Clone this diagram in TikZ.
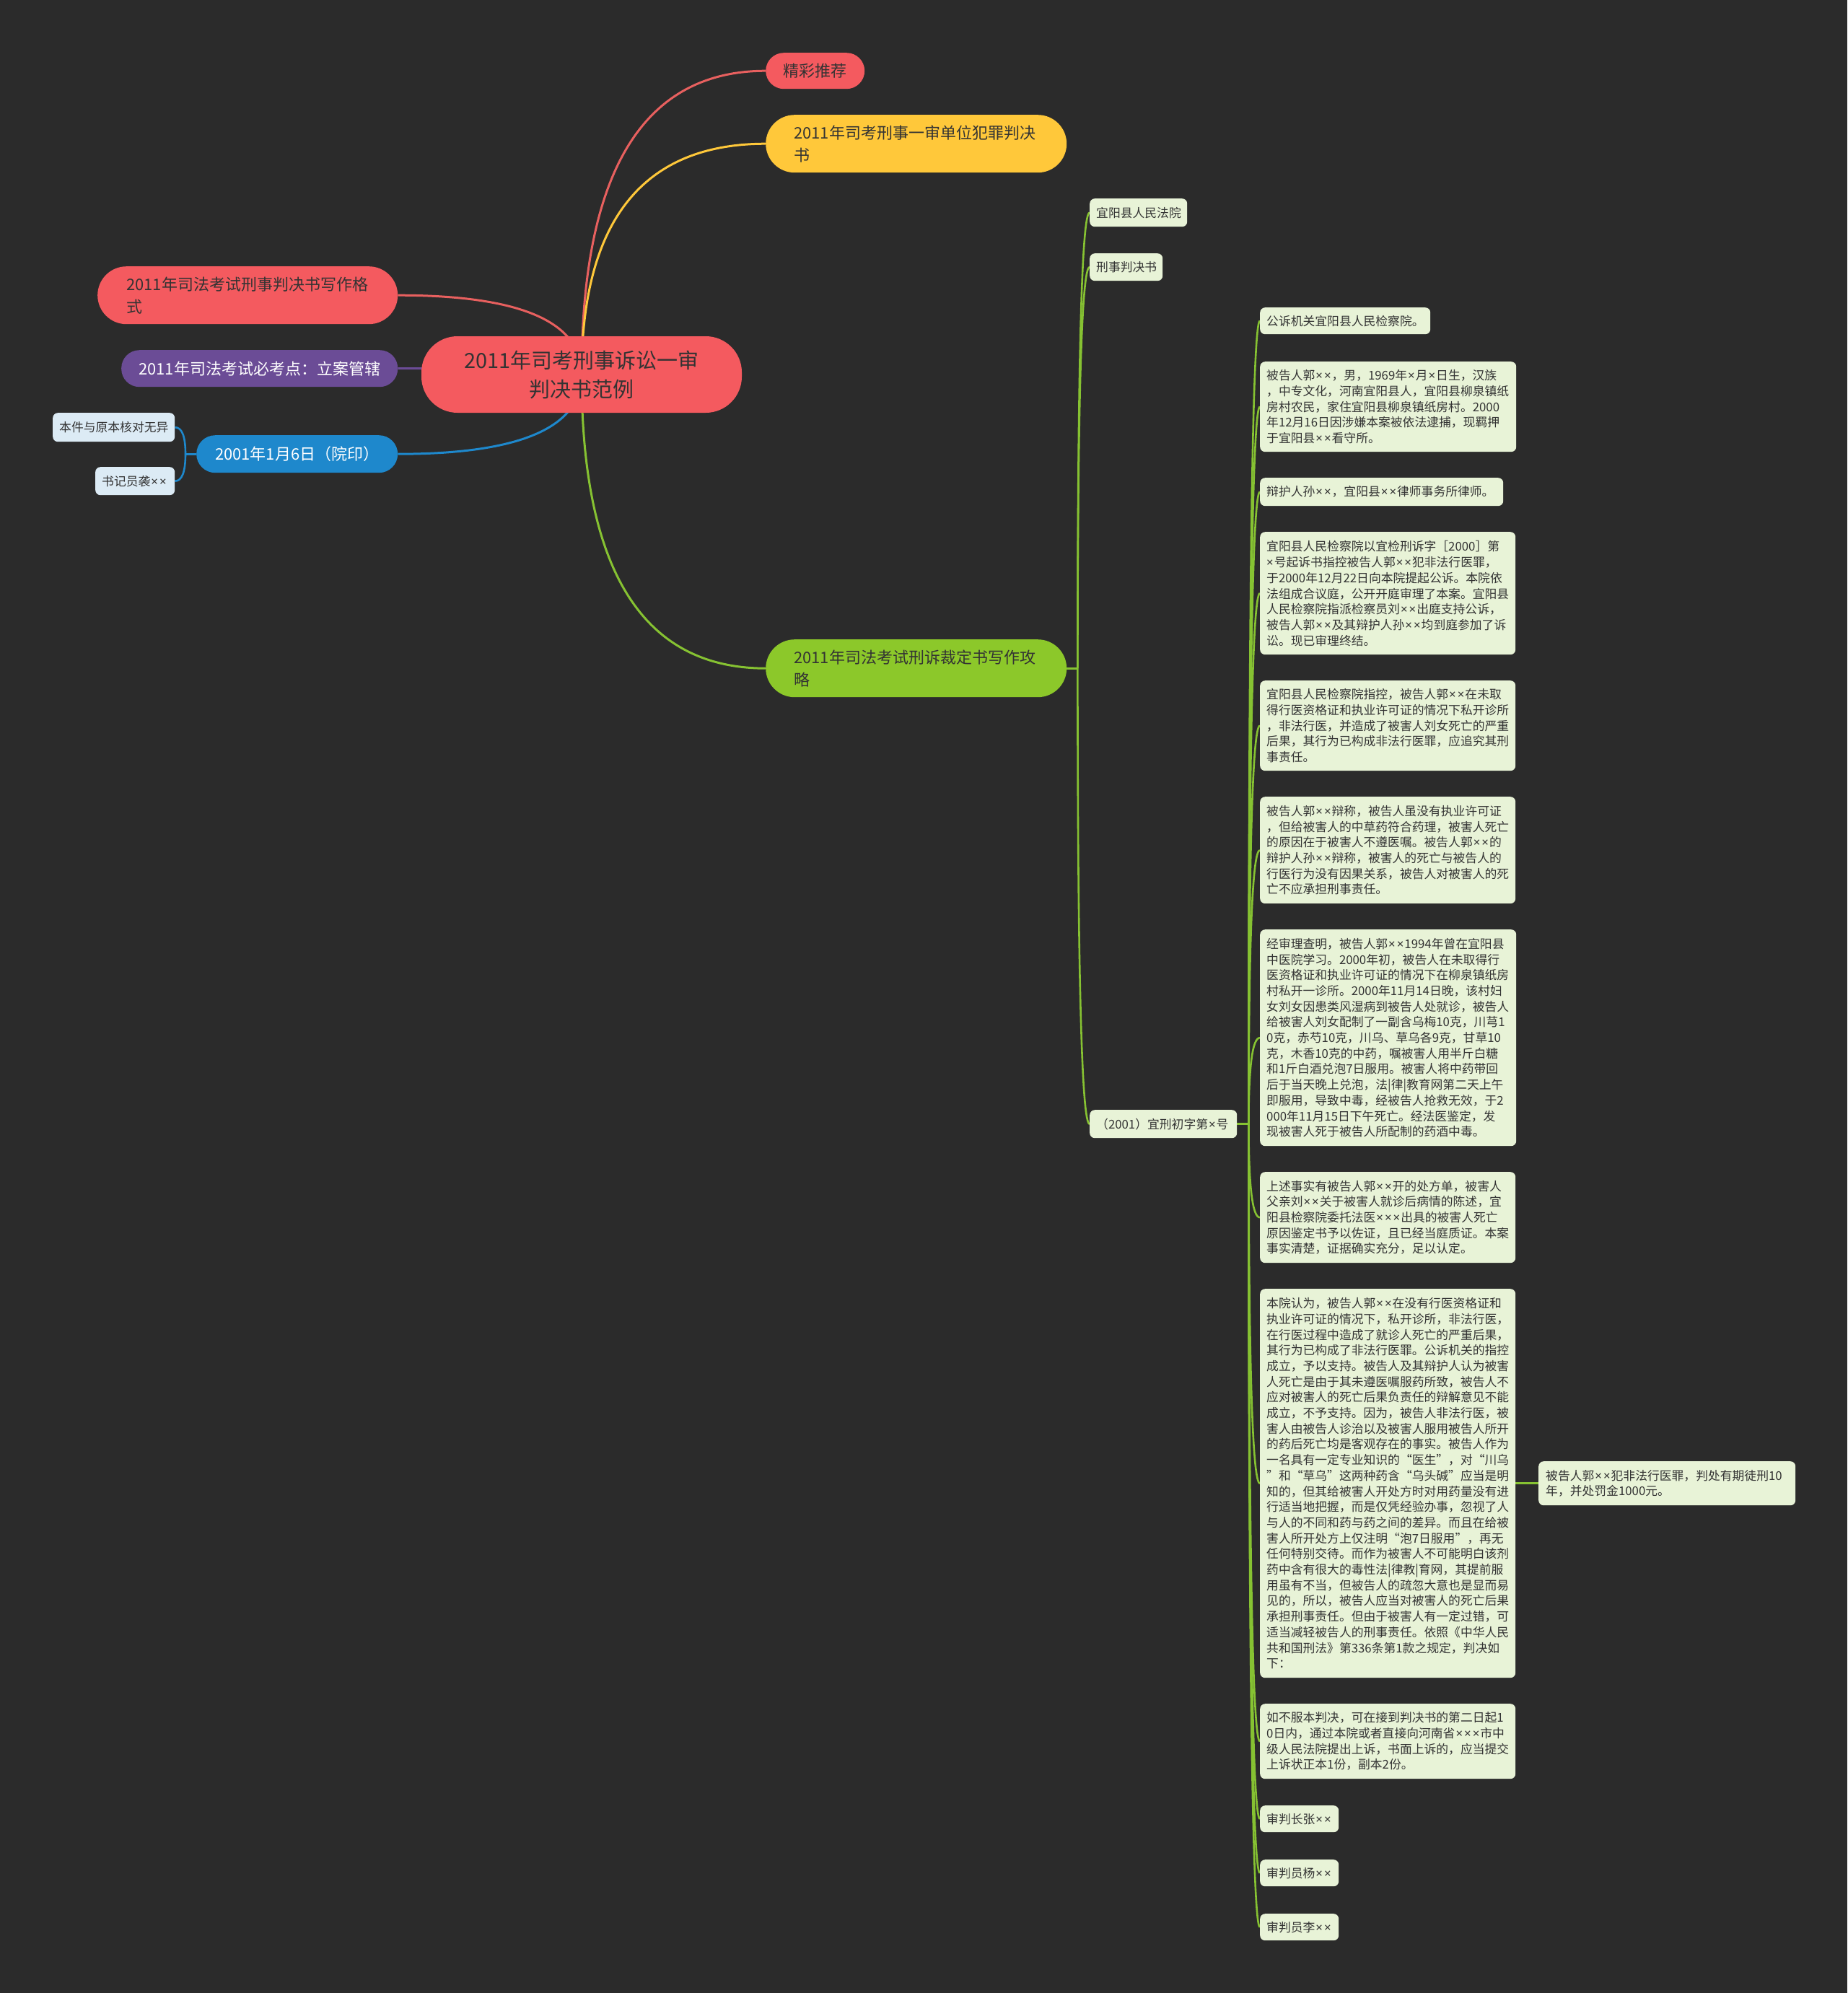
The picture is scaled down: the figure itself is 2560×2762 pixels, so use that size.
\documentclass[tikz,border=0pt]{standalone}
\usepackage{fontspec}
\setmainfont{Noto Sans CJK SC}
\newfontfamily\xlat{Noto Sans}
\usetikzlibrary{calc}
\hyphenpenalty=10000
\catcode`\×=\active
\def×{{\kern0.06em\xlat\char"00D7\kern0.06em}}
\definecolor{bgc}{HTML}{2B2B2B}
\definecolor{redc}{HTML}{F45A5F}
\definecolor{redl}{HTML}{E8605F}
\definecolor{yelc}{HTML}{FFC83A}
\definecolor{grnc}{HTML}{8CC82A}
\definecolor{grnl}{HTML}{86C232}
\definecolor{purc}{HTML}{6B4C96}
\definecolor{bluc}{HTML}{1E88CC}
\definecolor{boxc}{HTML}{E8F3D7}
\definecolor{lbluc}{HTML}{DCEBF5}
\definecolor{txtd}{HTML}{333333}
\pgfdeclarelayer{bgfill}
\pgfdeclarelayer{links}
\pgfsetlayers{bgfill,links,main}
\newcommand\qlink[3]{\draw[#1] (#2) .. controls ($(#2)!0.6667!(#2|-#3)$) and ($(#3)!0.6667!(#2|-#3)$) .. (#3);}
\begin{document}
\begin{tikzpicture}[x=1pt,y=-1pt,
  rootnode/.style={fill=redc,text=txtd,minimum width=444pt,minimum height=106pt,rounded corners=50pt,align=center,inner sep=0pt,font=\fontsize{29}{40}\selectfont},
  pill/.style={anchor=north west,inner sep=0pt,text=txtd,font=\fontsize{22}{31}\selectfont},
  tbox/.style={anchor=north west,fill=boxc,text=txtd,rounded corners=7pt,inner xsep=9pt,inner ysep=0pt,align=left,font=\fontsize{16.8}{21.7}\selectfont},
  lbox/.style={tbox,fill=lbluc},
  mainlink/.style={line width=3pt},
  sublink/.style={line width=2.6pt,grnl},
]
\begin{pgfonlayer}{bgfill}
\fill[bgc] (0,0) rectangle (2560,2762);
\end{pgfonlayer}
\useasboundingbox (0,0) rectangle (2560,2762);

% root
\node[rootnode] (root) at (806,519) {2011年司考刑事诉讼一审\\判决书范例};

% right level-1
\node[pill,fill=redc,minimum width=137pt,minimum height=50pt,rounded corners=25pt,align=center] (jc) at (1061,73) {精彩推荐};
\node[pill,fill=yelc,text width=339pt,inner xsep=39pt,align=left,minimum height=80pt,rounded corners=40pt] (y1) at (1061,159) {2011年司考刑事一审单位犯罪判决\\书};
\node[pill,fill=grnc,text width=339pt,inner xsep=39pt,align=left,minimum height=80pt,rounded corners=40pt] (gr) at (1061,886) {2011年司法考试刑诉裁定书写作攻\\略};

% left level-1
\node[pill,fill=redc,text width=336pt,inner xsep=40pt,align=left,minimum height=80pt,rounded corners=40pt] (r1) at (135,369) {2011年司法考试刑事判决书写作格\\式};
\node[pill,fill=purc,text=white,minimum width=383pt,minimum height=51pt,rounded corners=25pt,align=center] (p1) at (168,485) {2011年司法考试必考点：立案管辖};
\node[pill,fill=bluc,text=white,minimum width=279pt,minimum height=52pt,rounded corners=26pt,align=center] (b1) at (272,603) {2001年1月6日（院印）};
\node[lbox,text width=151pt,minimum height=40pt] (b1a) at (73,572) {本件与原本核对无异};
\node[lbox,text width=92pt,minimum height=39pt] (b1b) at (132,647) {书记员袭××};

% level-2 under green
\node[tbox,text width=117pt,minimum height=39pt] (g1) at (1510,275) {宜阳县人民法院};
\node[tbox,text width=83pt,minimum height=38pt] (g2) at (1510,351) {刑事判决书};
\node[tbox,text width=186pt,minimum height=39pt] (g3) at (1510,1538) {（2001）宜刑初字第×号};

% level-3
\node[tbox,text width=218pt,minimum height=37pt] (t1) at (1746,426) {公诉机关宜阳县人民检察院。};
\node[tbox,text width=337pt,minimum height=125pt] (t2) at (1746,501) {被告人郭××，男，1969年×月×日生，汉族\\，中专文化，河南宜阳县人，宜阳县柳泉镇纸\\房村农民，家住宜阳县柳泉镇纸房村。2000\\年12月16日因涉嫌本案被依法逮捕，现羁押\\于宜阳县××看守所。};
\node[tbox,text width=319pt,minimum height=39pt] (t3) at (1746,662) {辩护人孙××，宜阳县××律师事务所律师。};
\node[tbox,text width=336pt,minimum height=170pt] (t4) at (1746,737) {宜阳县人民检察院以宜检刑诉字［2000］第\\×号起诉书指控被告人郭××犯非法行医罪，\\于2000年12月22日向本院提起公诉。本院依\\法组成合议庭，公开开庭审理了本案。宜阳县\\人民检察院指派检察员刘××出庭支持公诉，\\被告人郭××及其辩护人孙××均到庭参加了诉\\讼。现已审理终结。};
\node[tbox,text width=336pt,minimum height=125pt] (t5) at (1746,943) {宜阳县人民检察院指控，被告人郭××在未取\\得行医资格证和执业许可证的情况下私开诊所\\，非法行医，并造成了被害人刘女死亡的严重\\后果，其行为已构成非法行医罪，应追究其刑\\事责任。};
\node[tbox,text width=336pt,minimum height=148pt] (t6) at (1746,1104) {被告人郭××辩称，被告人虽没有执业许可证\\，但给被害人的中草药符合药理，被害人死亡\\的原因在于被害人不遵医嘱。被告人郭××的\\辩护人孙××辩称，被害人的死亡与被告人的\\行医行为没有因果关系，被告人对被害人的死\\亡不应承担刑事责任。};
\node[tbox,text width=337pt,minimum height=300pt] (t7) at (1746,1288) {经审理查明，被告人郭××1994年曾在宜阳县\\中医院学习。2000年初，被告人在未取得行\\医资格证和执业许可证的情况下在柳泉镇纸房\\村私开一诊所。2000年11月14日晚，该村妇\\女刘女因患类风湿病到被告人处就诊，被告人\\给被害人刘女配制了一副含乌梅10克，川芎1\\0克，赤芍10克，川乌、草乌各9克，甘草10\\克，木香10克的中药，嘱被害人用半斤白糖\\和1斤白酒兑泡7日服用。被害人将中药带回\\后于当天晚上兑泡，法|律|教育网第二天上午\\即服用，导致中毒，经被告人抢救无效，于2\\000年11月15日下午死亡。经法医鉴定，发\\现被害人死于被告人所配制的药酒中毒。};
\node[tbox,text width=336pt,minimum height=126pt] (t8) at (1746,1624) {上述事实有被告人郭××开的处方单，被害人\\父亲刘××关于被害人就诊后病情的陈述，宜\\阳县检察院委托法医×××出具的被害人死亡\\原因鉴定书予以佐证，且已经当庭质证。本案\\事实清楚，证据确实充分，足以认定。};
\node[tbox,text width=336pt,minimum height=539pt] (t9) at (1746,1786) {本院认为，被告人郭××在没有行医资格证和\\执业许可证的情况下，私开诊所，非法行医，\\在行医过程中造成了就诊人死亡的严重后果，\\其行为已构成了非法行医罪。公诉机关的指控\\成立，予以支持。被告人及其辩护人认为被害\\人死亡是由于其未遵医嘱服药所致，被告人不\\应对被害人的死亡后果负责任的辩解意见不能\\成立，不予支持。因为，被告人非法行医，被\\害人由被告人诊治以及被害人服用被告人所开\\的药后死亡均是客观存在的事实。被告人作为\\一名具有一定专业知识的“医生”，对“川乌\\”和“草乌”这两种药含“乌头碱”应当是明\\知的，但其给被害人开处方时对用药量没有进\\行适当地把握，而是仅凭经验办事，忽视了人\\与人的不同和药与药之间的差异。而且在给被\\害人所开处方上仅注明“泡7日服用”，再无\\任何特别交待。而作为被害人不可能明白该剂\\药中含有很大的毒性法|律教|育网，其提前服\\用虽有不当，但被告人的疏忽大意也是显而易\\见的，所以，被告人应当对被害人的死亡后果\\承担刑事责任。但由于被害人有一定过错，可\\适当减轻被告人的刑事责任。依照《中华人民\\共和国刑法》第336条第1款之规定，判决如\\下：};
\node[tbox,text width=336pt,inner xsep=10pt,minimum height=61pt] (t9a) at (2132,2025) {被告人郭××犯非法行医罪，判处有期徒刑10\\年，并处罚金1000元。};
\node[tbox,text width=336pt,minimum height=104pt] (t10) at (1746,2361) {如不服本判决，可在接到判决书的第二日起1\\0日内，通过本院或者直接向河南省×××市中\\级人民法院提出上诉，书面上诉的，应当提交\\上诉状正本1份，副本2份。};
\node[tbox,text width=91pt,minimum height=37pt] (t11) at (1746,2502) {审判长张××};
\node[tbox,text width=91pt,minimum height=37pt] (t12) at (1746,2577) {审判员杨××};
\node[tbox,text width=91pt,minimum height=37pt] (t13) at (1746,2652) {审判员李××};

\coordinate (gj) at ([xshift=15pt]gr.east);
\coordinate (sj) at ([xshift=16pt]g3.east);
\coordinate (bj) at ([xshift=-15pt]b1.west);

\begin{pgfonlayer}{links}
\qlink{mainlink,redl}{root.center}{jc.west}
\qlink{mainlink,yelc}{root.center}{y1.west}
\qlink{mainlink,grnl}{root.center}{gr.west}
\qlink{mainlink,redl}{root.center}{r1.east}
\qlink{mainlink,purc}{root.center}{p1.east}
\qlink{mainlink,bluc}{root.center}{b1.east}
\draw[line width=2.6pt,bluc] (b1.west) -- (bj);
\qlink{line width=2.6pt,bluc}{bj}{b1a.east}
\qlink{line width=2.6pt,bluc}{bj}{b1b.east}
\draw[sublink] (gr.east) -- (gj);
\qlink{sublink}{gj}{g1.west}
\qlink{sublink}{gj}{g2.west}
\qlink{sublink}{gj}{g3.west}
\draw[sublink] (g3.east) -- (sj);
\foreach \k in {t1,t2,t3,t4,t5,t6,t7,t8,t9,t10,t11,t12,t13}{
  \qlink{sublink}{sj}{\k.west}
}
\draw[sublink] (t9.east) -- (t9a.west);
\end{pgfonlayer}
\end{tikzpicture}
\end{document}
